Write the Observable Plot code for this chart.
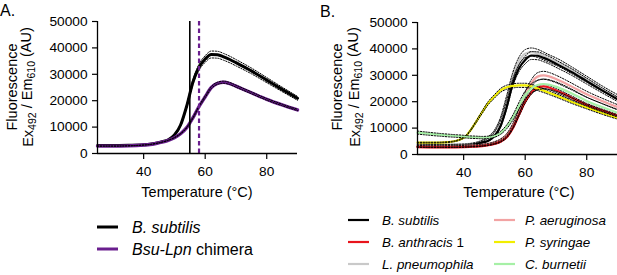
<!DOCTYPE html>
<html><head><meta charset="utf-8">
<script src="https://cdn.jsdelivr.net/npm/d3@7"></script>
<script src="https://cdn.jsdelivr.net/npm/@observablehq/plot@0.6"></script>
<style>
body{margin:0;background:#fff;font-family:"Liberation Sans",Arial,sans-serif;}
#root{position:relative;width:617px;height:275px;overflow:hidden;background:#fff;}
.panel{position:absolute;top:0;}
#overlay{position:absolute;left:0;top:0;pointer-events:none;}
</style></head><body><div id="root"></div>
<script>
// ---------- data ----------
const temps = [25,30,35,40,42,44,46,48,50,52,54,56,58,60,62,64,66,68,70,75,80,85,90];
const xTicks = [40,60,80];
const yTicks = [0,10000,20000,30000,40000,50000];

const bSubtilis   = [3000,3000,3100,3300,3500,3900,4500,5200,7000,10800,18000,27000,32700,35800,37500,37400,36600,35600,34400,31300,27800,24300,20900];
const chimera     = [2800,2800,2900,3200,3400,3800,4300,5000,6000,7500,9800,13500,17800,21500,25000,26600,27000,26500,25500,23000,20500,18400,16500];
const tmBsu = 55;
const tmChimera = 58;

const lPneumophila = [3800,3700,3700,3800,4000,4400,5200,6500,8800,13500,21500,30000,35500,38200,38800,38300,37300,36200,35200,32000,28500,25000,21800];
const bAnthracis1  = [2800,2700,2700,2800,2900,3000,3200,3500,4000,4800,6500,10000,15000,20000,23500,25300,25800,25300,24300,21600,18800,16700,14700];
const pAeruginosa  = [3300,3200,3200,3300,3400,3500,3700,4000,4600,5600,7500,11200,16500,22500,27000,29500,30000,29500,28600,25800,22800,20300,18000];
const pSyringae    = [4500,4500,4700,6300,8800,12300,16000,19500,22000,24300,25500,26000,26200,26200,25800,25000,24200,23300,22400,20000,17800,15700,13800];
const cBurnetii    = [8300,7700,7200,6800,6600,6500,6400,6500,7000,8200,10500,14000,18500,22500,25000,26300,26700,26400,25700,23200,20300,18000,15800];

// relative spread of replicate (dotted) lines
const errA = {"B. subtilis":0.035, "Bsu-Lpn chimera":0.015};
const errB = {"B. subtilis":0.04, "B. anthracis 1":0.03, "L. pneumophila":0.04, "P. aeruginosa":0.05, "P. syringae":0.03, "C. burnetii":0.07};

const colA = {"B. subtilis":"#000000", "Bsu-Lpn chimera":"#6a1e8e"};
const colB = {"B. subtilis":"#000000", "B. anthracis 1":"#e8141c", "L. pneumophila":"#c9c9c9", "P. aeruginosa":"#f2a3a3", "P. syringae":"#f2ee00", "C. burnetii":"#a6f0a6"};

const seriesA = [["B. subtilis", bSubtilis], ["Bsu-Lpn chimera", chimera]];
const seriesB = [["L. pneumophila", lPneumophila], ["B. subtilis", bSubtilis], ["P. aeruginosa", pAeruginosa], ["B. anthracis 1", bAnthracis1], ["P. syringae", pSyringae], ["C. burnetii", cBurnetii]];

const FONT = "'Liberation Sans', Arial, sans-serif";

function rowsOf(vals, f){ return temps.map((t,i)=>({t, v:vals[i], lo:vals[i]*(1-f), hi:vals[i]*(1+f)})); }

function seriesMarks(name, vals, color, f, width){
  const rows = rowsOf(vals, f);
  return [
    Plot.line(rows, {x:"t", y:"v", stroke:color, strokeWidth:width, curve:"monotone-x"}),
    Plot.line(rows, {x:"t", y:"hi", stroke:"#000", strokeWidth:1, strokeDasharray:"1.3,1.5", curve:"monotone-x"}),
    Plot.line(rows, {x:"t", y:"lo", stroke:"#000", strokeWidth:1, strokeDasharray:"1.3,1.5", curve:"monotone-x"})
  ];
}

function makePanel(opts){
  const svg = Plot.plot({
    width: opts.width, height: 205,
    marginLeft: opts.ml, marginRight: opts.mr, marginTop: opts.mt, marginBottom: 205 - opts.mb,
    x: {domain:[25,90], ticks:xTicks, tickSize:6, tickPadding:7, label:null},
    y: {domain:[0,50000], ticks:yTicks, tickSize:5, tickPadding:5, tickFormat:"d", label:null},
    style: {fontFamily: FONT, fontSize:"13.7px", color:"#000", background:"transparent", overflow:"visible"},
    marks: [
      ...opts.marks,
      Plot.ruleY([0], {stroke:"#000", strokeWidth:1.3}),
      Plot.ruleX([25], {stroke:"#000", strokeWidth:1.3})
    ]
  });
  const s = d3.select(svg);
  s.selectAll("[aria-label='x-axis tick'] path, [aria-label='y-axis tick'] path").attr("stroke-width",1.2);
  // x title
  s.append("text").attr("x", opts.xTitleX).attr("y", 197).attr("text-anchor","middle")
    .attr("font-family", FONT).attr("font-size", "14.5px").attr("fill","#000").text("Temperature (°C)");
  // y title (two lines)
  s.append("text").attr("transform", `translate(${opts.yt1},87) rotate(-90)`).attr("text-anchor","middle")
    .attr("font-family", FONT).attr("font-size","14.5px").attr("fill","#000").text("Fluorescence");
  const t2 = s.append("text").attr("transform", `translate(${opts.yt2},87) rotate(-90)`).attr("text-anchor","middle")
    .attr("font-family", FONT).attr("font-size","14.5px").attr("fill","#000");
  t2.append("tspan").text("Ex");
  t2.append("tspan").attr("dy","0.3em").attr("font-size","10.5px").text("492");
  t2.append("tspan").attr("dy","-0.3em").text(" / Em");
  t2.append("tspan").attr("dy","0.3em").attr("font-size","10.5px").text("610");
  t2.append("tspan").attr("dy","-0.3em").text(" (AU)");
  return svg;
}

const root = document.getElementById("root");

// Panel A
const marksA = [];
seriesA.forEach(([n,v]) => marksA.push(...seriesMarks(n, v, colA[n], errA[n], n === "Bsu-Lpn chimera" ? 3.4 : 3)));
marksA.push(Plot.ruleX([tmBsu], {stroke:"#000", strokeWidth:1.6}));
marksA.push(Plot.ruleX([tmChimera], {stroke:colA["Bsu-Lpn chimera"], strokeWidth:2.2, strokeDasharray:"4.5,3"}));
const svgA = makePanel({width:305, ml:97, mr:8, mt:21, mb:153, marks:marksA, xTitleX:197, yt1:17, yt2:33});
const divA = document.createElement("div"); divA.className="panel"; divA.style.left="0px"; divA.appendChild(svgA); root.appendChild(divA);

// Panel B
const marksB = [];
seriesB.forEach(([n,v]) => marksB.push(...seriesMarks(n, v, colB[n], errB[n], 2.2)));
const svgB = makePanel({width:317, ml:117, mr:0, mt:22, mb:154, marks:marksB, xTitleX:219, yt1:42, yt2:60});
const divB = document.createElement("div"); divB.className="panel"; divB.style.left="300px"; divB.appendChild(svgB); root.appendChild(divB);

// Overlay: panel letters + legends
const ov = d3.select(root).append("svg").attr("id","overlay").attr("width",617).attr("height",275)
  .attr("font-family", FONT);
ov.append("text").attr("x",0).attr("y",16).attr("font-size","16px").text("A.");
ov.append("text").attr("x",320).attr("y",17).attr("font-size","16px").text("B.");

// legend A
const legA = [
  {parts:[["B. subtilis",true]], color:colA["B. subtilis"], y:227},
  {parts:[["Bsu-Lpn",true],[" chimera",false]], color:colA["Bsu-Lpn chimera"], y:249}
];
legA.forEach(e => {
  ov.append("line").attr("x1",97).attr("x2",118).attr("y1",e.y).attr("y2",e.y).attr("stroke",e.color).attr("stroke-width",3);
  const t = ov.append("text").attr("x",132).attr("y",e.y+5.5).attr("font-size","16px").attr("fill","#000");
  e.parts.forEach(([s,it]) => t.append("tspan").attr("font-style", it?"italic":"normal").text(s));
});

// legend B
const legB = [
  {parts:[["B. subtilis",true]], color:colB["B. subtilis"], x:348, y:220},
  {parts:[["B. anthracis",true],[" 1",false]], color:colB["B. anthracis 1"], x:348, y:242},
  {parts:[["L. pneumophila",true]], color:colB["L. pneumophila"], x:348, y:264},
  {parts:[["P. aeruginosa",true]], color:colB["P. aeruginosa"], x:494, y:220},
  {parts:[["P. syringae",true]], color:colB["P. syringae"], x:494, y:242},
  {parts:[["C. burnetii",true]], color:colB["C. burnetii"], x:494, y:264}
];
legB.forEach(e => {
  ov.append("line").attr("x1",e.x).attr("x2",e.x+21).attr("y1",e.y).attr("y2",e.y).attr("stroke",e.color).attr("stroke-width",2.2);
  const t = ov.append("text").attr("x",e.x + (e.x===348?34:31)).attr("y",e.y+5).attr("font-size","13.4px").attr("fill","#000");
  e.parts.forEach(([s,it]) => t.append("tspan").attr("font-style", it?"italic":"normal").text(s));
});
</script></body></html>
